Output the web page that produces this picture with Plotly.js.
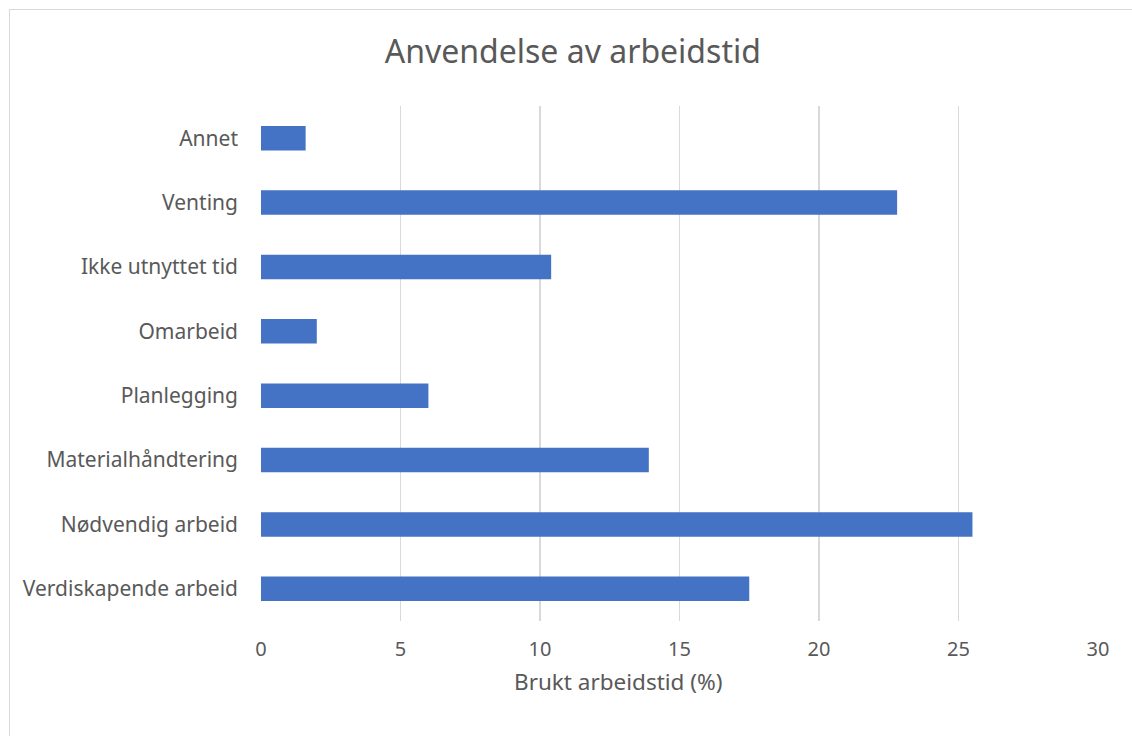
<!DOCTYPE html>
<html>
<head>
<meta charset="utf-8">
<script src="https://cdn.plot.ly/plotly-3.0.1.min.js"></script>
<style>
html,body{margin:0;padding:0;background:#fff;}
#wrap{position:relative;width:1132px;height:736px;overflow:hidden;}
#frame{position:absolute;left:9px;top:9px;width:1140px;height:740px;border:1px solid #d9d9d9;box-sizing:border-box;}
#chart{position:absolute;left:0;top:0;width:1132px;height:736px;}
</style>
</head>
<body>
<div id="wrap"><div id="frame"></div><div id="chart"></div></div>
<script>
const categories = ["Verdiskapende arbeid","Nødvendig arbeid","Materialhåndtering","Planlegging","Omarbeid","Ikke utnyttet tid","Venting","Annet"];
const values = [17.5, 25.5, 13.9, 6.0, 2.0, 10.4, 22.8, 1.6];
const xTicks = [0,5,10,15,20,25,30];
const xTitle = 'Brukt arbeidstid (%)';

const font = "Noto Sans, Open Sans, sans-serif";
Plotly.newPlot('chart', [{
  type: 'bar',
  orientation: 'h',
  y: categories,
  x: values,
  marker: {color: '#4472C4'},
  hoverinfo: 'x+y'
}], {
  width: 1132, height: 736,
  paper_bgcolor: 'rgba(0,0,0,0)',
  plot_bgcolor: 'rgba(0,0,0,0)',
  margin: {l: 261, r: 34, t: 106, b: 115},
  bargap: 0.62,
  showlegend: false,
  title: {text: 'Anvendelse av arbeidstid', x: 0.506, xanchor: 'center', y: 0.929, yanchor: 'middle',
          font: {family: font, size: 32, color: '#595959'}},
  xaxis: {
    range: [0, 30], tickvals: xTicks, ticktext: xTicks.map(String),
    showgrid: true, gridcolor: '#d9d9d9', gridwidth: 1.5,
    zeroline: false, showline: false, ticks: '',
    tickfont: {family: font, size: 20, color: '#595959'},
    ticklabelstandoff: 14
  },
  yaxis: {
    showgrid: false, zeroline: false, showline: false, ticks: '',
    tickfont: {family: font, size: 21, color: '#595959'},
    ticklabelstandoff: 22,
    automargin: false
  },
  annotations: [{
    text: xTitle, xref: 'paper', yref: 'paper',
    x: (618 - 261) / (1098 - 261), y: -(681 - 621) / (621 - 106),
    xanchor: 'center', yanchor: 'middle', showarrow: false,
    font: {family: font, size: 22.5, color: '#595959'}
  }]
}, {displayModeBar: false, staticPlot: true});
</script>
</body>
</html>
